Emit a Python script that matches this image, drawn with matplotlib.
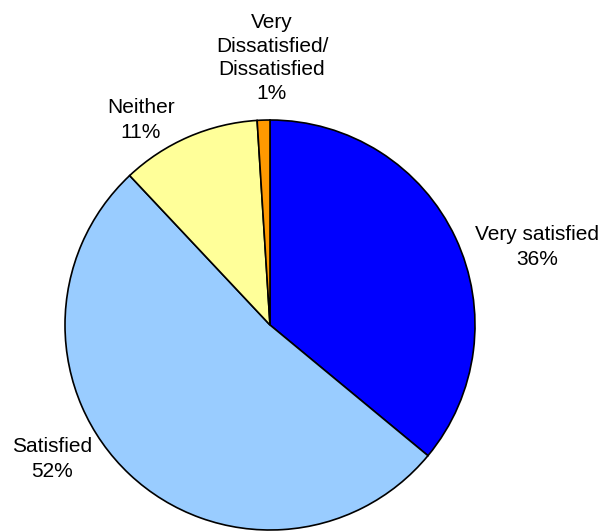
import matplotlib
matplotlib.use("Agg")
import matplotlib.pyplot as plt

# Satisfaction breakdown (percent)
categories = ["Very satisfied", "Satisfied", "Neither", "Very\nDissatisfied/\nDissatisfied"]
values = [36, 52, 11, 1]
colors = ["#0000FF", "#99CCFF", "#FFFF99", "#FF9900"]

W, H = 606, 531
fig = plt.figure(figsize=(W / 100, H / 100), dpi=100)
ax = fig.add_axes([0, 0, 1, 1])

cx, cy, r = 270, H - 325, 205
ax.pie(values, colors=colors, startangle=90, counterclock=False,
       center=(cx, cy), radius=r, frame=True,
       wedgeprops=dict(edgecolor="black", linewidth=1.2))
ax.set_xlim(0, W)
ax.set_ylim(0, H)
ax.set_aspect("equal")
ax.axis("off")

# Label anchor points (pixel coords from the top-left) and line spacing
label_pos = [(537, 247), (52, 459), (141, 120), (272, 58)]
spacing = [1.45, 1.45, 1.4, 1.3]
for name, v, (x, y), ls in zip(categories, values, label_pos, spacing):
    ax.text(x, H - y, f"{name}\n{v}%", ha="center", va="center",
            fontsize=15, family="Liberation Sans", linespacing=ls,
            color="black")

fig.savefig("out.png", dpi=100, facecolor="white")
